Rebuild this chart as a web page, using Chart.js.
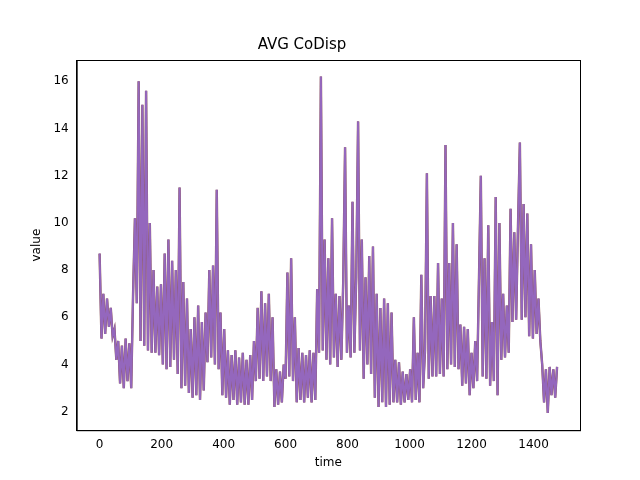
<!DOCTYPE html>
<html>
<head>
<meta charset="utf-8">
<script src="https://cdn.jsdelivr.net/npm/chart.js@4"></script>
<style>
  html, body { margin: 0; padding: 0; background: #fff; }
  #wrap { width: 640px; height: 480px; }
</style>
</head>
<body>
<div id="wrap"><canvas id="codispChart" width="640" height="480"></canvas></div>
<script>
const timeStep = 6;
// avg codisp, one value every 6 time units
const avgCoDisp = [
    8.7,5.1,7.0,5.3,6.8,5.6,6.4,5.2,5.5,4.2,
    5.0,3.2,4.8,3.0,5.1,3.3,4.9,3.0,7.0,10.2,
    6.6,16.0,5.0,15.0,4.8,15.6,4.6,10.0,4.5,8.0,
    4.5,7.3,4.4,7.4,4.0,8.7,3.8,9.3,3.9,8.4,
    4.2,8.0,3.6,11.5,3.0,7.5,3.1,6.8,2.8,5.5,
    2.6,6.0,2.7,6.5,2.5,5.8,2.9,6.2,4.1,8.0,
    4.3,8.2,4.0,11.4,3.8,6.2,2.7,5.5,2.6,4.6,
    2.3,4.4,2.5,4.6,2.3,4.3,2.4,4.5,2.3,4.2,
    2.3,4.4,2.5,5.0,3.3,6.4,3.4,7.1,3.3,6.6,
    3.5,7.0,3.3,6.0,2.2,3.8,2.3,3.7,2.4,4.0,
    3.4,7.9,3.5,8.5,3.3,6.0,2.4,4.7,2.5,4.5,
    2.4,4.4,2.6,4.6,2.4,4.5,2.5,7.2,4.5,16.2,
    4.6,9.3,4.2,8.5,4.0,10.2,4.3,7.0,3.9,6.9,
    4.2,7.5,13.2,4.5,6.5,4.3,10.9,4.5,7.7,14.3,
    4.6,9.3,3.4,7.7,4.0,8.6,3.6,9.0,2.6,7.0,
    2.2,6.4,2.4,6.8,2.2,6.6,2.3,6.2,2.4,4.2,
    2.4,4.1,2.3,3.7,2.4,3.6,2.5,3.8,2.4,6.0,
    2.5,4.5,2.4,7.8,3.0,4.6,12.1,3.4,6.9,3.5,
    6.9,3.5,8.3,3.6,6.8,3.5,13.3,3.8,8.3,4.0,
    10.0,3.9,9.1,3.8,5.7,3.1,5.6,3.2,5.5,2.7,
    4.5,3.0,5.0,3.3,7.6,12.0,3.5,8.5,3.4,9.9,
    3.1,5.8,3.3,11.1,2.7,10.0,4.2,7.0,4.3,6.5,
    4.5,10.6,5.8,9.6,5.9,9.9,13.4,5.9,10.8,6.0,
    10.4,5.2,9.1,5.1,8.0,5.3,6.8,5.0,4.0,2.4,
    3.8,1.95,3.9,2.7,3.8,2.6,3.9
];
const xTicks = [0, 200, 400, 600, 800, 1000, 1200, 1400];
const yTicks = [2, 4, 6, 8, 10, 12, 14, 16];

const points = avgCoDisp.map((v, i) => ({ x: i * timeStep, y: v }));

// matplotlib style closed frame
const frameBox = {
    id: 'frameBox',
    afterDraw(chart) {
        const a = chart.chartArea, ctx = chart.ctx;
        ctx.save();
        ctx.strokeStyle = '#000';
        ctx.lineWidth = 1;
        ctx.strokeRect(a.left + 0.5, a.top + 0.5, a.right - a.left, a.bottom - a.top);
        ctx.restore();
    }
};

const tickFont = { family: 'DejaVu Sans', size: 12 };

new Chart(document.getElementById('codispChart').getContext('2d'), {
    type: 'line',
    data: {
        datasets: [{
            data: points,
            borderColor: '#8c564b',
            borderWidth: 2.4,
            pointRadius: 0,
            fill: false,
            order: 2
        }, {
            data: points,
            borderColor: '#9467bd',
            borderWidth: 2,
            pointRadius: 0,
            fill: false,
            order: 1
        }]
    },
    options: {
        responsive: false,
        animation: false,
        layout: { padding: { left: 24, right: 60, top: 12, bottom: 8 } },
        plugins: {
            legend: { display: false },
            tooltip: { enabled: false },
            title: {
                display: true,
                text: 'AVG CoDisp',
                color: '#000',
                font: { family: 'DejaVu Sans', size: 15, weight: 'normal' },
                padding: { top: 24, bottom: 6 }
            }
        },
        scales: {
            x: {
                type: 'linear',
                min: -74,
                max: 1550,
                afterBuildTicks: s => { s.ticks = xTicks.map(v => ({ value: v })); },
                grid: { display: false, drawTicks: true, tickLength: 5, tickColor: '#000' },
                border: { color: '#000' },
                ticks: { color: '#000', font: tickFont, maxRotation: 0, padding: 2, callback: v => String(v) },
                title: { display: true, text: 'time', color: '#000', font: tickFont, padding: 2 }
            },
            y: {
                min: 1.22,
                max: 16.9,
                afterBuildTicks: s => { s.ticks = yTicks.map(v => ({ value: v })); },
                grid: { display: false, drawTicks: true, tickLength: 5, tickColor: '#000' },
                border: { color: '#000' },
                ticks: { color: '#000', font: tickFont, padding: 3, callback: v => String(v) },
                title: { display: true, text: 'value', color: '#000', font: tickFont, padding: 6 }
            }
        }
    },
    plugins: [frameBox]
});
</script>
</body>
</html>
